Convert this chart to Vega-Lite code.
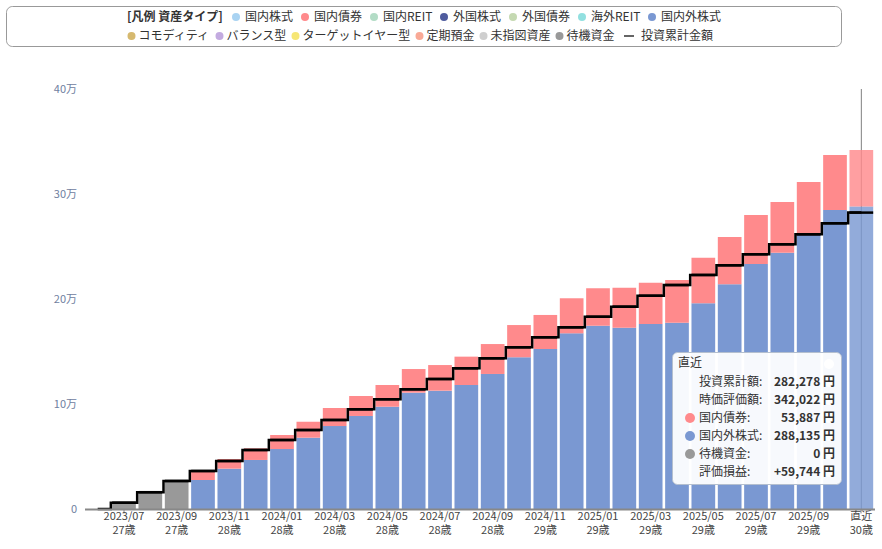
{
  "$schema": "https://vega.github.io/schema/vega-lite/v6.json",
  "autosize": {"type": "none"},
  "padding": {"left": 84.5, "top": 89, "right": 7.5, "bottom": 40},
  "width": 790,
  "height": 420,
  "background": "#ffffff",
  "config": {
    "font": "Noto Sans CJK JP",
    "view": {"stroke": null}
  },
  "datasets": {
    "monthly": [
      {"period": "2023/06", "国内外株式": 0, "国内債券": 0, "待機資金": 0, "投資累計金額": 0},
      {"period": "2023/07 27歳", "国内外株式": 0, "国内債券": 0, "待機資金": 6000, "投資累計金額": 6000},
      {"period": "2023/08", "国内外株式": 0, "国内債券": 0, "待機資金": 16000, "投資累計金額": 16000},
      {"period": "2023/09 27歳", "国内外株式": 0, "国内債券": 0, "待機資金": 26700, "投資累計金額": 26700},
      {"period": "2023/10", "国内外株式": 27600, "国内債券": 7900, "待機資金": 0, "投資累計金額": 36200},
      {"period": "2023/11 28歳", "国内外株式": 38400, "国内債券": 9200, "待機資金": 0, "投資累計金額": 45700},
      {"period": "2023/12", "国内外株式": 46700, "国内債券": 11100, "待機資金": 0, "投資累計金額": 56200},
      {"period": "2024/01 28歳", "国内外株式": 57100, "国内債券": 13400, "待機資金": 0, "投資累計金額": 65700},
      {"period": "2024/02", "国内外株式": 67900, "国内債券": 15200, "待機資金": 0, "投資累計金額": 75200},
      {"period": "2024/03 28歳", "国内外株式": 79000, "国内債券": 17200, "待機資金": 0, "投資累計金額": 84800},
      {"period": "2024/04", "国内外株式": 88600, "国内債券": 19000, "待機資金": 0, "投資累計金額": 94900},
      {"period": "2024/05 28歳", "国内外株式": 97400, "国内債券": 20700, "待機資金": 0, "投資累計金額": 104500},
      {"period": "2024/06", "国内外株式": 110800, "国内債券": 22500, "待機資金": 0, "投資累計金額": 114000},
      {"period": "2024/07 28歳", "国内外株式": 112700, "国内債券": 24400, "待機資金": 0, "投資累計金額": 123800},
      {"period": "2024/08", "国内外株式": 118100, "国内債券": 27000, "待機資金": 0, "投資累計金額": 134000},
      {"period": "2024/09 28歳", "国内外株式": 128600, "国内債券": 28500, "待機資金": 0, "投資累計金額": 143500},
      {"period": "2024/10", "国内外株式": 144500, "国内債券": 30700, "待機資金": 0, "投資累計金額": 154000},
      {"period": "2024/11 29歳", "国内外株式": 152400, "国内債券": 32400, "待機資金": 0, "投資累計金額": 163500},
      {"period": "2024/12", "国内外株式": 167300, "国内債券": 33400, "待機資金": 0, "投資累計金額": 173000},
      {"period": "2025/01 29歳", "国内外株式": 174600, "国内債券": 35600, "待機資金": 0, "投資累計金額": 183100},
      {"period": "2025/02", "国内外株式": 172700, "国内債券": 38100, "待機資金": 0, "投資累計金額": 192700},
      {"period": "2025/03 29歳", "国内外株式": 176200, "国内債券": 39300, "待機資金": 0, "投資累計金額": 203100},
      {"period": "2025/04", "国内外株式": 177400, "国内債券": 40700, "待機資金": 0, "投資累計金額": 213300},
      {"period": "2025/05 29歳", "国内外株式": 195900, "国内債券": 43400, "待機資金": 0, "投資累計金額": 222900},
      {"period": "2025/06", "国内外株式": 214000, "国内債券": 45100, "待機資金": 0, "投資累計金額": 232100},
      {"period": "2025/07 29歳", "国内外株式": 233300, "国内債券": 46700, "待機資金": 0, "投資累計金額": 242600},
      {"period": "2025/08", "国内外株式": 244100, "国内債券": 48300, "待機資金": 0, "投資累計金額": 252100},
      {"period": "2025/09 29歳", "国内外株式": 261000, "国内債券": 50400, "待機資金": 0, "投資累計金額": 261600},
      {"period": "2025/10", "国内外株式": 284800, "国内債券": 52300, "待機資金": 0, "投資累計金額": 272100},
      {"period": "直近 30歳", "国内外株式": 288135, "国内債券": 53887, "待機資金": 0, "投資累計金額": 282278}
    ],
    "tip": [
      {"k": "投資累計額:", "v": "282,278 円"},
      {"k": "時価評価額:", "v": "342,022 円"},
      {"k": "国内債券:", "v": "53,887 円"},
      {"k": "国内外株式:", "v": "288,135 円"},
      {"k": "待機資金:", "v": "0 円"},
      {"k": "評価損益:", "v": "+59,744 円"}
    ]
  },
  "layer": [
    {
      "data": {"name": "tip"},
      "mark": {"type": "point", "opacity": 0, "filled": true, "color": "#ffffff"},
      "encoding": {
        "shape": {
          "field": "v", "type": "nominal",
          "scale": {
            "domain": [" ", "282,278 円", "342,022 円", "53,887 円", "288,135 円", "0 円", "+59,744 円"],
            "range": ["circle"]
          },
          "legend": {
            "orient": "none", "legendX": 587.5, "legendY": 263,
            "direction": "vertical",
            "title": "直近",
            "titleOrient": "left",
            "titleAnchor": "start",
            "titleBaseline": "top",
            "titlePadding": 120,
            "titleFontSize": 12,
            "titleFontWeight": "normal",
            "titleColor": "#333333",
            "padding": 6,
            "fillColor": "rgba(255,255,255,0.94)",
            "strokeColor": "#b4bfcf",
            "cornerRadius": 5,
            "labelAlign": "right",
            "labelFontSize": 12,
            "labelFontWeight": "bold",
            "labelColor": "#333333",
            "labelOffset": 0,
            "symbolSize": 100,
            "symbolOpacity": 1,
            "symbolStrokeWidth": 0,
            "rowPadding": 6
          }
        }
      }
    },
    {
      "data": {"name": "tip"},
      "mark": {"type": "point", "opacity": 0, "filled": true, "color": "#ffffff"},
      "encoding": {
        "size": {
          "datum": "a", "type": "ordinal",
          "scale": {"domain": ["a", "b"], "range": [1, 1]},
          "legend": {
            "orient": "none", "legendX": -78.5, "legendY": -83,
            "direction": "vertical",
            "title": "　", "titleOrient": "left", "titlePadding": 815,
            "padding": 4,
            "strokeColor": "#999999", "cornerRadius": 6,
            "symbolOpacity": 0,
            "labelFontSize": 12,
            "labelOffset": 0, "labelExpr": "'　'",
            "rowPadding": 8
          }
        }
      }
    },
    {
      "data": {"name": "monthly"},
      "transform": [{"filter": "datum.period === '直近 30歳'"}],
      "mark": {"type": "rule", "color": "#808080", "strokeWidth": 1},
      "encoding": {
        "x": {"field": "period", "type": "nominal", "sort": null},
        "y": {"datum": 0, "type": "quantitative"},
        "y2": {"datum": 400000}
      }
    },
    {
      "data": {"name": "monthly"},
      "transform": [{"fold": ["国内外株式", "国内債券", "待機資金"], "as": ["asset", "amount"]}],
      "mark": {"type": "bar"},
      "encoding": {
        "x": {
          "field": "period", "type": "nominal", "sort": null,
          "scale": {
            "domain": ["2023/06", "2023/07 27歳", "2023/08", "2023/09 27歳", "2023/10", "2023/11 28歳", "2023/12", "2024/01 28歳", "2024/02", "2024/03 28歳", "2024/04", "2024/05 28歳", "2024/06", "2024/07 28歳", "2024/08", "2024/09 28歳", "2024/10", "2024/11 29歳", "2024/12", "2025/01 29歳", "2025/02", "2025/03 29歳", "2025/04", "2025/05 29歳", "2025/06", "2025/07 29歳", "2025/08", "2025/09 29歳", "2025/10", "直近 30歳"],
            "paddingInner": 0.1, "paddingOuter": 0.05
          },
          "axis": {
            "title": null,
            "values": ["2023/07 27歳", "2023/09 27歳", "2023/11 28歳", "2024/01 28歳", "2024/03 28歳", "2024/05 28歳", "2024/07 28歳", "2024/09 28歳", "2024/11 29歳", "2025/01 29歳", "2025/03 29歳", "2025/05 29歳", "2025/07 29歳", "2025/09 29歳", "直近 30歳"],
            "labelExpr": "split(datum.value, ' ')",
            "labelAngle": 0,
            "labelAlign": "center",
            "labelOverlap": false,
            "labelFontSize": 11,
            "labelLineHeight": 14,
            "labelColor": "#444444",
            "labelPadding": 3,
            "domainColor": "#888888",
            "domainWidth": 2,
            "tickColor": "#888888",
            "tickSize": 4,
            "zindex": 1
          }
        },
        "y": {
          "field": "amount", "type": "quantitative", "stack": "zero",
          "scale": {"domain": [0, 400000], "nice": false},
          "axis": {
            "title": null,
            "values": [0, 100000, 200000, 300000, 400000],
            "labelExpr": "datum.value === 0 ? '0' : (datum.value / 10000) + '万'",
            "domain": false,
            "ticks": false,
            "gridColor": "#888888",
            "gridWidth": 1,
            "labelColor": "#7080a0",
            "labelFontSize": 11,
            "labelPadding": 8
          }
        },
        "color": {
          "field": "asset", "type": "nominal",
          "scale": {
            "domain": ["国内株式", "国内債券", "国内REIT", "外国株式", "外国債券", "海外REIT", "国内外株式", "待機資金"],
            "range": ["#a9d3f2", "#ff8a8c", "#b3dcc6", "#4f5c9e", "#c5d9b2", "#92e0e0", "#7a98d2", "#999999"]
          },
          "legend": {
            "orient": "none", "legendX": 42.5, "legendY": -78,
            "direction": "horizontal",
            "values": ["国内株式", "国内債券", "国内REIT", "外国株式", "外国債券", "海外REIT", "国内外株式"],
            "title": "[凡例 資産タイプ]",
            "titleOrient": "left",
            "titlePadding": 7,
            "titleFontSize": 12,
            "titleFontWeight": "bold",
            "titleColor": "#333333",
            "padding": 0,
            "labelFontSize": 12,
            "labelColor": "#333333",
            "labelOffset": 3,
            "columnPadding": 5,
            "symbolSize": 64,
            "symbolType": "circle",
            "symbolStrokeWidth": 0
          }
        },
        "order": {"field": "asset", "sort": "descending"},
        "opacity": {"condition": {"test": "datum.period === '直近 30歳'", "value": 0.82}, "value": 1}
      }
    },
    {
      "data": {"name": "monthly"},
      "mark": {"type": "line", "interpolate": "step", "color": "#000000", "strokeWidth": 2.5},
      "encoding": {
        "x": {"field": "period", "type": "nominal", "sort": null},
        "y": {"field": "投資累計金額", "type": "quantitative"},
        "strokeDash": {
          "datum": "投資累計金額", "type": "nominal",
          "scale": {"domain": ["投資累計金額"], "range": [[1, 0]]},
          "legend": {
            "orient": "none", "legendX": 538.5, "legendY": -59,
            "title": null, "padding": 0,
            "labelFontSize": 12, "labelColor": "#333333", "labelOffset": 6,
            "symbolType": "stroke", "symbolSize": 100,
            "symbolStrokeColor": "#333333", "symbolStrokeWidth": 1.5
          }
        }
      }
    },
    {
      "data": {"name": "monthly"},
      "transform": [{"filter": "datum['投資累計金額'] > 0"}],
      "mark": {"type": "rule", "color": "#000000", "strokeWidth": 2.5},
      "encoding": {
        "x": {"field": "period", "type": "nominal", "sort": null, "bandPosition": 0},
        "x2": {"field": "period", "bandPosition": 1},
        "y": {"field": "投資累計金額", "type": "quantitative"}
      }
    },
    {
      "data": {"name": "tip"},
      "mark": {"type": "point", "opacity": 0},
      "encoding": {
        "stroke": {
          "datum": "待機資金", "type": "nominal",
          "scale": {
            "domain": ["コモディティ", "バランス型", "ターゲットイヤー型", "定期預金", "未指図資産", "待機資金"],
            "range": ["#d6b96f", "#c3abe0", "#f6e675", "#f9a996", "#cfcfcf", "#999999"]
          },
          "legend": {
            "orient": "none", "legendX": 41, "legendY": -59,
            "direction": "horizontal",
            "title": null,
            "padding": 0,
            "labelFontSize": 12,
            "labelColor": "#333333",
            "labelOffset": 1,
            "columnPadding": -2,
            "symbolType": "circle",
            "symbolSize": 16,
            "symbolStrokeWidth": 4,
            "symbolOpacity": 1
          }
        }
      }
    },
    {
      "data": {"name": "tip"},
      "mark": {"type": "point", "opacity": 0, "filled": true},
      "encoding": {
        "fill": {
          "field": "k", "type": "nominal",
          "scale": {
            "domain": ["投資累計額:", "時価評価額:", "国内債券:", "国内外株式:", "待機資金:", "評価損益:"],
            "range": ["transparent", "transparent", "#ff8a8c", "#7a98d2", "#999999", "transparent"]
          },
          "legend": {
            "orient": "none", "legendX": 593.5, "legendY": 287,
            "direction": "vertical",
            "title": null,
            "padding": 0,
            "labelFontSize": 12,
            "labelColor": "#333333",
            "labelOffset": 3,
            "symbolOffset": 6,
            "symbolSize": 100,
            "symbolType": "circle",
            "symbolStrokeWidth": 0,
            "rowPadding": 6,
            "symbolOpacity": 1
          }
        }
      }
    }
  ]
}
